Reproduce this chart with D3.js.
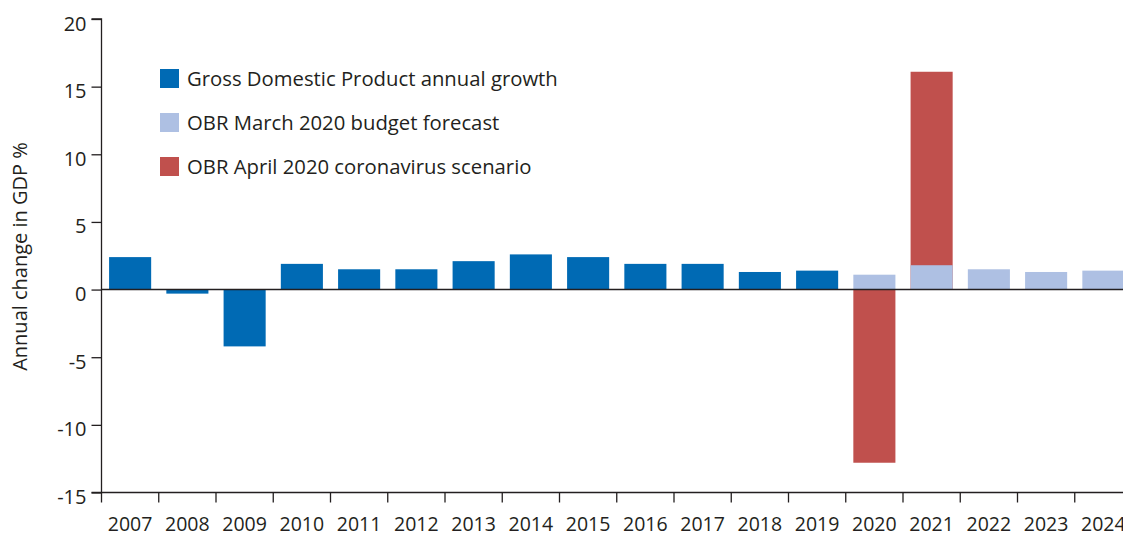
<!DOCTYPE html>
<html>
<head>
<meta charset="utf-8">
<script src="https://cdn.jsdelivr.net/npm/d3@7"></script>
<style>
  html, body { margin: 0; padding: 0; background: #fff; overflow: hidden; }
  svg { display: block; font-family: "Open Sans", "Noto Sans", sans-serif; }
</style>
</head>
<body>
<svg id="chart" width="1123" height="537"></svg>
<script>
// Annual GDP growth, UK (%), with OBR forecasts
const years = ["2007","2008","2009","2010","2011","2012","2013","2014","2015",
               "2016","2017","2018","2019","2020","2021","2022","2023","2024"];
const gdpGrowth   = [2.4, -0.3, -4.2, 1.9, 1.5, 1.5, 2.1, 2.6, 2.4, 1.9, 1.9, 1.3, 1.4,
                     null, null, null, null, null];
const marchBudget = [null, null, null, null, null, null, null, null, null, null, null, null, null,
                     1.1, 1.8, 1.5, 1.3, 1.4];
const aprilCovid  = [null, null, null, null, null, null, null, null, null, null, null, null, null,
                     -12.8, 16.1, null, null, null];
const yTicks = [20, 15, 10, 5, 0, -5, -10, -15];
const seriesNames = ["Gross Domestic Product annual growth",
                     "OBR March 2020 budget forecast",
                     "OBR April 2020 coronavirus scenario"];
const seriesColors = ["#006ab4", "#aec0e3", "#c0504d"];

const svg = d3.select("#chart");
const ink = "#231f20";

const x0 = 101.5, step = 57.25;
const x = d3.scaleBand()
  .domain(years)
  .range([x0, x0 + step * years.length])
  .paddingInner(0.265)
  .paddingOuter(0.1325);

const y = d3.scaleLinear().domain([-15, 20]).range([492.5, 19]);

// Bars: red scenario first, March forecast drawn over it, then outturn
function drawBars(values, color) {
  svg.append("g").selectAll("rect")
    .data(years.map((yr, i) => ({ yr, v: values[i] })).filter(d => d.v !== null))
    .join("rect")
    .attr("x", d => x(d.yr))
    .attr("width", x.bandwidth())
    .attr("y", d => y(Math.max(0, d.v)))
    .attr("height", d => Math.abs(y(d.v) - y(0)))
    .attr("fill", color);
}
drawBars(aprilCovid, seriesColors[2]);
drawBars(marchBudget, seriesColors[1]);
drawBars(gdpGrowth, seriesColors[0]);

// Zero line
svg.append("line")
  .attr("x1", x0).attr("x2", 1123)
  .attr("y1", y(0)).attr("y2", y(0))
  .attr("stroke", ink).attr("stroke-width", 1.5);

// Y axis
const yAxis = svg.append("g")
  .attr("transform", `translate(${x0},0)`)
  .call(d3.axisLeft(y).tickValues(yTicks).tickSize(10).tickPadding(5).tickFormat(d => String(d)));
yAxis.select(".domain").attr("stroke", ink).attr("stroke-width", 1.3)
  .attr("d", `M-10,${y(20)}H0V${y(-15)}H-10`);
yAxis.selectAll(".tick line").attr("stroke", ink).attr("stroke-width", 1.3);
yAxis.selectAll(".tick text").attr("fill", ink).style("font-size", "20px")
  .attr("font-family", "'Open Sans', sans-serif").attr("dy", "0.55em");

// X axis along the bottom of the plot, ticks on band boundaries
const xAxisG = svg.append("g").attr("transform", `translate(0,${y(-15)})`);
xAxisG.append("line")
  .attr("x1", x0).attr("x2", 1123).attr("y1", 0).attr("y2", 0)
  .attr("stroke", ink).attr("stroke-width", 1.3);
xAxisG.selectAll("line.tk")
  .data(years)
  .join("line").attr("class", "tk")
  .attr("x1", d => x(d) - x.step() * x.paddingOuter())
  .attr("x2", d => x(d) - x.step() * x.paddingOuter())
  .attr("y1", 0).attr("y2", 10)
  .attr("stroke", ink).attr("stroke-width", 1.3);
xAxisG.selectAll("text")
  .data(years)
  .join("text")
  .attr("x", d => x(d) + x.bandwidth() / 2)
  .attr("y", 38.5)
  .attr("text-anchor", "middle")
  .attr("fill", ink)
  .style("font-size", "19.5px")
  .text(d => d);

// Y axis title
svg.append("text")
  .attr("transform", `translate(27,256.5) rotate(-90)`)
  .attr("text-anchor", "middle")
  .attr("fill", ink)
  .style("font-size", "20px")
  .text("Annual change in GDP %");

// Legend
const legend = svg.append("g").attr("transform", "translate(160,69)");
const items = legend.selectAll("g")
  .data(seriesNames)
  .join("g")
  .attr("transform", (d, i) => `translate(0,${i * 44})`);
items.append("rect")
  .attr("width", 19).attr("height", 19)
  .attr("fill", (d, i) => seriesColors[i]);
items.append("text")
  .attr("x", 27).attr("y", 9.5).attr("dy", "0.36em")
  .attr("fill", ink)
  .style("font-size", "20.3px")
  .text(d => d);
</script>
</body>
</html>
